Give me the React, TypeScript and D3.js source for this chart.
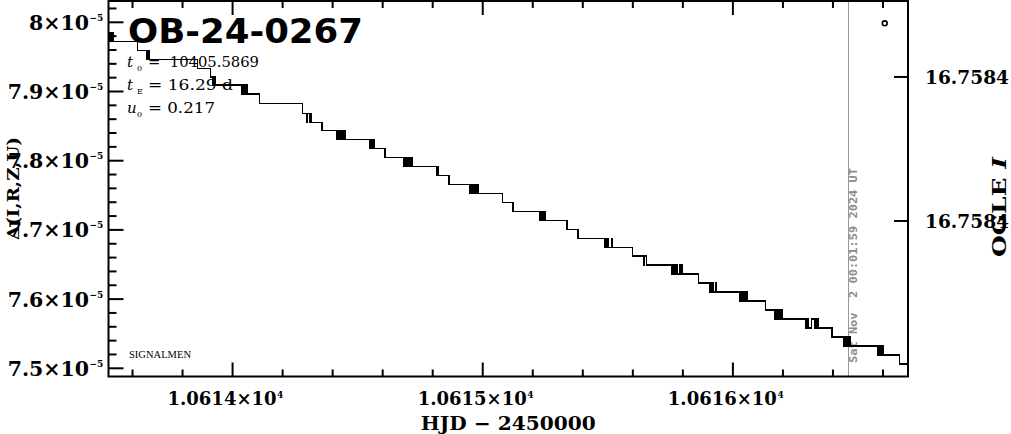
import React from 'react';
import * as d3 from 'd3';

// ---- data ----
const xDomain = [10613.504, 10616.7];
const yDomain = [7.48815, 8.03078]; // flux, units of 1e-5
const magDomain = [16.7583589, 16.7584632];

const xMajorTicks = [10614, 10615, 10616];
const xTickLabels = ['1.0614', '1.0615', '1.0616'];
const yMajorTicks = [7.5, 7.6, 7.7, 7.8, 7.9, 8.0];
const yTickLabels = ['7.5', '7.6', '7.7', '7.8', '7.9', '8'];
const magTicks = [16.75838, 16.75842];

const modelHJD = [
  10613.504, 10613.508, 10613.512, 10613.516, 10613.52, 10613.524, 10613.6188,
  10613.6548, 10613.658, 10613.6612, 10613.6648, 10613.668, 10613.8612, 10613.912,
  10613.92, 10613.924, 10613.93, 10614.0348, 10614.0388, 10614.0428, 10614.0468,
  10614.0508, 10614.0548, 10614.058, 10614.108, 10614.28, 10614.2948, 10614.2988,
  10614.308, 10614.312, 10614.3148, 10614.3572, 10614.4172, 10614.4212, 10614.428,
  10614.432, 10614.436, 10614.44, 10614.444, 10614.448, 10614.452, 10614.548,
  10614.552, 10614.556, 10614.5612, 10614.5652, 10614.6092, 10614.6852, 10614.6892,
  10614.6948, 10614.6988, 10614.7028, 10614.7068, 10614.7108, 10614.714, 10614.7172,
  10614.816, 10614.82, 10614.824, 10614.8652, 10614.948, 10614.952, 10614.9572,
  10614.9612, 10614.9652, 10614.9692, 10614.9732, 10614.978, 10614.9828, 10615.0788,
  10615.1212, 10615.228, 10615.232, 10615.236, 10615.2412, 10615.2452, 10615.2492,
  10615.252, 10615.3372, 10615.3812, 10615.488, 10615.492, 10615.496, 10615.5,
  10615.504, 10615.514, 10615.518, 10615.5988, 10615.644, 10615.648, 10615.654,
  10615.7548, 10615.7588, 10615.7628, 10615.7668, 10615.7708, 10615.7748, 10615.7788,
  10615.786, 10615.79, 10615.796, 10615.7988, 10615.8612, 10615.9052, 10615.9092,
  10615.9132, 10615.92, 10615.924, 10615.93, 10615.9332, 10616.0252, 10616.0292,
  10616.0332, 10616.0372, 10616.0412, 10616.0452, 10616.0492, 10616.0532, 10616.0572,
  10616.1292, 10616.168, 10616.172, 10616.176, 10616.1812, 10616.188, 10616.192,
  10616.1972, 10616.292, 10616.296, 10616.3012, 10616.3148, 10616.3252, 10616.328,
  10616.3348, 10616.338, 10616.342, 10616.396, 10616.444, 10616.448, 10616.452,
  10616.456, 10616.46, 10616.464, 10616.468, 10616.5772, 10616.5812, 10616.5852,
  10616.5892, 10616.5932, 10616.5972, 10616.6012, 10616.6652, 10616.7,
];
const modelFlux = [
  7.9845, 7.972, 7.9845, 7.972, 7.9845, 7.972, 7.959,
  7.9465, 7.959, 7.9465, 7.959, 7.9465, 7.9335, 7.9209,
  7.9094, 7.9209, 7.9094, 7.8964, 7.9094, 7.8964, 7.9094,
  7.8964, 7.9094, 7.8964, 7.8829, 7.8685, 7.8555, 7.8685,
  7.8555, 7.8685, 7.8555, 7.8434, 7.8309, 7.8434, 7.8309,
  7.8434, 7.8309, 7.8434, 7.8309, 7.8434, 7.8309, 7.8179,
  7.8309, 7.8179, 7.8309, 7.8179, 7.8049, 7.7919, 7.8049,
  7.7919, 7.8049, 7.7919, 7.8049, 7.7919, 7.8049, 7.7919,
  7.7789, 7.7919, 7.7789, 7.7659, 7.7529, 7.7659, 7.7529,
  7.7659, 7.7529, 7.7659, 7.7529, 7.7659, 7.7529, 7.7399,
  7.7269, 7.7139, 7.7269, 7.7139, 7.7269, 7.7139, 7.7269,
  7.7139, 7.7009, 7.6879, 7.6749, 7.6879, 7.6749, 7.6879,
  7.6749, 7.6879, 7.6749, 7.6623, 7.6493, 7.6623, 7.6493,
  7.6363, 7.6493, 7.6363, 7.6493, 7.6363, 7.6493, 7.6363,
  7.6493, 7.6363, 7.6493, 7.6363, 7.6233, 7.6103, 7.6233,
  7.6103, 7.6233, 7.6103, 7.6233, 7.6103, 7.5973, 7.6103,
  7.5973, 7.6103, 7.5973, 7.6103, 7.5973, 7.6103, 7.5973,
  7.5843, 7.5712, 7.5843, 7.5712, 7.5843, 7.5712, 7.5843,
  7.5712, 7.5582, 7.5712, 7.5582, 7.5712, 7.5582, 7.5712,
  7.5582, 7.5712, 7.5582, 7.5452, 7.5322, 7.5452, 7.5322,
  7.5452, 7.5322, 7.5452, 7.5322, 7.5192, 7.5322, 7.5192,
  7.5322, 7.5192, 7.5322, 7.5192, 7.5062, 7.5062,
];

const obsHJD = [10616.607];
const obsFlux = [7.99855];
const nowHJD = 10616.463;

const title = 'OB-24-0267';
const paramNames = ['t', 't', 'u'];
const paramSubs = ['0', 'E', '0'];
const paramValues = ['=\u00A0\u00A010405.5869', '=\u00A016.29\u00A0d', '=\u00A00.217'];
const timeStamp = 'Sat Nov  2 00:01:59 2024 UT';

// ---- layout ----
const W = 1011;
const H = 434;
const P = { left: 108.5, right: 908, top: 1, bottom: 376.5 };
const LBL = 'DejaVu Serif';

export default function App() {
  const x = d3.scaleLinear().domain(xDomain).range([P.left, P.right]);
  const y = d3.scaleLinear().domain(yDomain).range([P.bottom, P.top]);
  const yR = d3.scaleLinear().domain(magDomain).range([P.top, P.bottom]);

  const pts: [number, number][] = modelHJD.map((t, i) => [t, modelFlux[i]]);
  const line = d3
    .line<[number, number]>()
    .x((d) => x(d[0]))
    .y((d) => y(d[1]))
    .curve(d3.curveStepAfter);

  const xMinor = d3.range(0, 16).map((i) => 10613.6 + i * 0.2).filter((v) => v > xDomain[0] && v < xDomain[1]);
  const yMinor = d3.range(0, 28).map((i) => 7.5 + i * 0.02 - 0.02).filter((v) => v > yDomain[0] && v < yDomain[1]);
  const isMajorX = (v: number) => Math.abs(v - Math.round(v)) < 1e-6;
  const isMajorY = (v: number) => Math.abs(v * 10 - Math.round(v * 10)) < 1e-6;

  const fmtMag = d3.format('.4f');

  return (
    <svg width={W} height={H} style={{ position: 'absolute', left: 0, top: 0, background: '#fff' }}>
      <defs>
        <clipPath id="plotclip">
          <rect x={P.left} y={P.top} width={P.right - P.left} height={P.bottom - P.top} />
        </clipPath>
      </defs>

      {/* now line */}
      <line x1={x(nowHJD)} x2={x(nowHJD)} y1={P.top} y2={P.bottom} stroke="#999" strokeWidth={1} shapeRendering="crispEdges" />
      <text
        transform={`translate(${x(nowHJD) + 8.5},${P.bottom - 13.5}) rotate(-90)`}
        fontFamily="DejaVu Sans Mono"
        fontWeight="bold"
        fontSize={11}
        fill="#8c8c8c"
        textLength={195}
        lengthAdjust="spacingAndGlyphs"
        style={{ whiteSpace: 'pre' }}
      >
        {timeStamp}
      </text>

      {/* model */}
      <g clipPath="url(#plotclip)">
        <path d={line(pts) || ''} fill="none" stroke="#000" strokeWidth={1.2} shapeRendering="crispEdges" />
        {obsHJD.map((t, i) => (
          <circle key={i} cx={x(t)} cy={y(obsFlux[i])} r={2.4} fill="none" stroke="#000" strokeWidth={1.6} />
        ))}
      </g>

      {/* frame */}
      <rect x={P.left} y={P.top} width={P.right - P.left} height={P.bottom - P.top} fill="none" stroke="#000" strokeWidth={2} />

      {/* x ticks bottom & top */}
      {xMinor.map((v, i) => {
        const len = isMajorX(v) ? 14 : 7;
        const px = x(v);
        return (
          <g key={i}>
            <line x1={px} x2={px} y1={P.bottom} y2={P.bottom - len} stroke="#000" strokeWidth={2} />
            <line x1={px} x2={px} y1={P.top} y2={P.top + len} stroke="#000" strokeWidth={2} />
          </g>
        );
      })}
      {/* y ticks left */}
      {yMinor.map((v, i) => {
        const len = isMajorY(v) ? 15 : 8;
        const py = y(v);
        return <line key={i} x1={P.left} x2={P.left + len} y1={py} y2={py} stroke="#000" strokeWidth={2} />;
      })}
      {/* right ticks */}
      {magTicks.map((m, i) => (
        <line key={i} x1={P.right} x2={P.right - 14} y1={yR(m)} y2={yR(m)} stroke="#000" strokeWidth={2} />
      ))}

      {/* left labels */}
      {yMajorTicks.map((v, i) => (
        <g key={i}>
          <text x={89} y={y(v) + 7.5} textAnchor="end" fontFamily={LBL} fontWeight="bold" fontSize={20.5}>
            {yTickLabels[i] + '×10'}
          </text>
          <text x={89.5} y={y(v) - 1.5} fontFamily={LBL} fontWeight="bold" fontSize={9}>
            −5
          </text>
        </g>
      ))}

      {/* bottom labels */}
      {xMajorTicks.map((v, i) => (
        <g key={i}>
          <text x={x(v) + 44} y={405} textAnchor="end" fontFamily={LBL} fontWeight="bold" fontSize={18}>
            {xTickLabels[i] + '×10'}
          </text>
          <text x={x(v) + 44.5} y={398} fontFamily={LBL} fontWeight="bold" fontSize={9}>
            4
          </text>
        </g>
      ))}
      <text x={(P.left + P.right) / 2} y={430} textAnchor="middle" fontFamily={LBL} fontWeight="bold" fontSize={19} textLength={175} lengthAdjust="spacingAndGlyphs">
        HJD − 2450000
      </text>

      {/* right labels */}
      {magTicks.map((m, i) => (
        <text key={i} x={925} y={yR(m) + 7} fontFamily={LBL} fontWeight="bold" fontSize={18.5} textLength={84} lengthAdjust="spacingAndGlyphs">
          {fmtMag(m)}
        </text>
      ))}

      {/* axis titles */}
      <text transform="translate(19,240) rotate(-90)" fontFamily={LBL} fontWeight="bold" fontSize={17} textLength={103} lengthAdjust="spacingAndGlyphs">
        Δ(I,R,Z,U)
      </text>
      <text transform="translate(1006,257) rotate(-90)" fontFamily={LBL} fontWeight="bold" fontSize={18} textLength={100} lengthAdjust="spacingAndGlyphs">
        OGLE <tspan fontStyle="italic">I</tspan>
      </text>

      {/* title */}
      <text x={128} y={43} fontFamily="DejaVu Sans" fontWeight="bold" fontSize={34} textLength={235} lengthAdjust="spacingAndGlyphs">
        {title}
      </text>

      {/* parameters */}
      {paramNames.map((n, i) => {
        const by = 66.5 + i * 23;
        const ends = [259, 233, 215];
        return (
          <g key={i} fontFamily={LBL}>
            <text x={127} y={by} fontSize={15} fontStyle="italic">
              {n}
            </text>
            <text x={137} y={by + 4} fontSize={8}>
              {paramSubs[i]}
            </text>
            <text x={148} y={by} fontSize={14} textLength={ends[i] - 148} lengthAdjust="spacingAndGlyphs" style={{ whiteSpace: 'pre' }}>
              {paramValues[i]}
            </text>
          </g>
        );
      })}

      <text x={129} y={358} fontFamily="Liberation Serif" fontSize={9.5} textLength={62} lengthAdjust="spacingAndGlyphs">
        SIGNALMEN
      </text>
    </svg>
  );
}
